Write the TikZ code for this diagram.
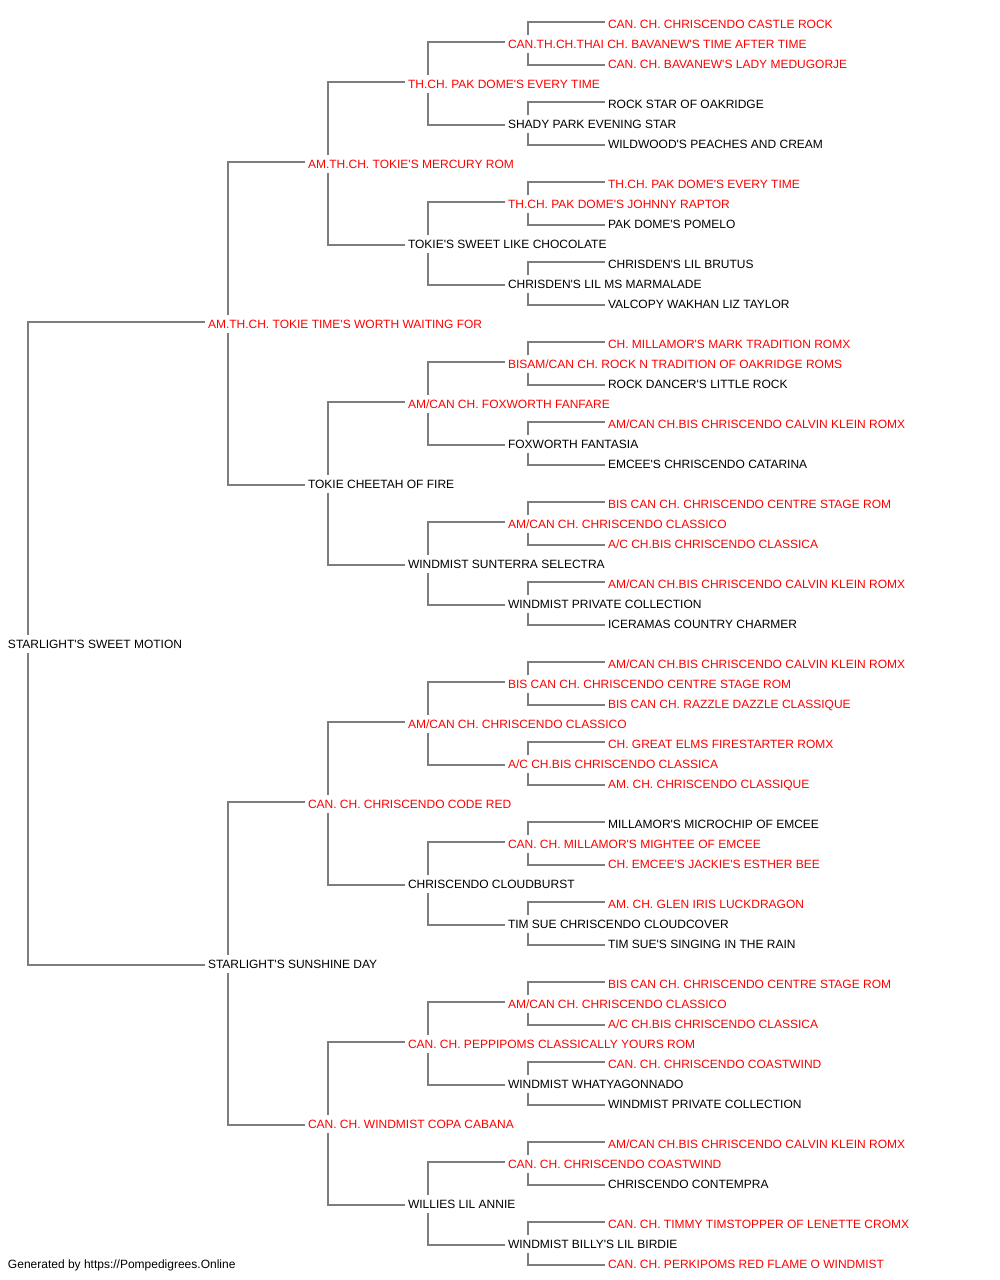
\documentclass[tikz,border=0pt]{standalone}
\usepackage{fontspec}
\setmainfont{Liberation Sans}[Ligatures=TeXOff]
\definecolor{pedred}{RGB}{255,0,0}
\definecolor{pedline}{RGB}{125,125,125}
\begin{document}
\begin{tikzpicture}[x=1pt,y=-1pt,
  nm/.style={anchor=west, inner xsep=3pt, inner ysep=0pt, outer sep=0pt,
    text height=10.6pt, text depth=0pt, font=\fontsize{12pt}{14pt}\selectfont, text=black},
  hl/.style={nm, text=pedred},
  conn/.style={draw=pedline, line width=1.8pt}]
\useasboundingbox (0,0) rectangle (1000,1280);
\def\ry#1{23+20*#1}
% leaves col 605, gen4 505, gen3 405, gen2 305, gen1 205, root 5 (node west = text x - 3)
\node[hl] (r0) at (605,{\ry{0}}) {CAN. CH. CHRISCENDO CASTLE ROCK};
\node[hl] (r1) at (505,{\ry{1}}) {CAN.TH.CH.THAI CH. BAVANEW'S TIME AFTER TIME};
\node[hl] (r2) at (605,{\ry{2}}) {CAN. CH. BAVANEW'S LADY MEDUGORJE};
\node[hl] (r3) at (405,{\ry{3}}) {TH.CH. PAK DOME'S EVERY TIME};
\node[nm] (r4) at (605,{\ry{4}}) {ROCK STAR OF OAKRIDGE};
\node[nm] (r5) at (505,{\ry{5}}) {SHADY PARK EVENING STAR};
\node[nm] (r6) at (605,{\ry{6}}) {WILDWOOD'S PEACHES AND CREAM};
\node[hl] (r7) at (305,{\ry{7}}) {AM.TH.CH. TOKIE'S MERCURY ROM};
\node[hl] (r8) at (605,{\ry{8}}) {TH.CH. PAK DOME'S EVERY TIME};
\node[hl] (r9) at (505,{\ry{9}}) {TH.CH. PAK DOME'S JOHNNY RAPTOR};
\node[nm] (r10) at (605,{\ry{10}}) {PAK DOME'S POMELO};
\node[nm] (r11) at (405,{\ry{11}}) {TOKIE'S SWEET LIKE CHOCOLATE};
\node[nm] (r12) at (605,{\ry{12}}) {CHRISDEN'S LIL BRUTUS};
\node[nm] (r13) at (505,{\ry{13}}) {CHRISDEN'S LIL MS MARMALADE};
\node[nm] (r14) at (605,{\ry{14}}) {VALCOPY WAKHAN LIZ TAYLOR};
\node[hl] (r15) at (205,{\ry{15}}) {AM.TH.CH. TOKIE TIME'S WORTH WAITING FOR};
\node[hl] (r16) at (605,{\ry{16}}) {CH. MILLAMOR'S MARK TRADITION ROMX};
\node[hl] (r17) at (505,{\ry{17}}) {BISAM/CAN CH. ROCK N TRADITION OF OAKRIDGE ROMS};
\node[nm] (r18) at (605,{\ry{18}}) {ROCK DANCER'S LITTLE ROCK};
\node[hl] (r19) at (405,{\ry{19}}) {AM/CAN CH. FOXWORTH FANFARE};
\node[hl] (r20) at (605,{\ry{20}}) {AM/CAN CH.BIS CHRISCENDO CALVIN KLEIN ROMX};
\node[nm] (r21) at (505,{\ry{21}}) {FOXWORTH FANTASIA};
\node[nm] (r22) at (605,{\ry{22}}) {EMCEE'S CHRISCENDO CATARINA};
\node[nm] (r23) at (305,{\ry{23}}) {TOKIE CHEETAH OF FIRE};
\node[hl] (r24) at (605,{\ry{24}}) {BIS CAN CH. CHRISCENDO CENTRE STAGE ROM};
\node[hl] (r25) at (505,{\ry{25}}) {AM/CAN CH. CHRISCENDO CLASSICO};
\node[hl] (r26) at (605,{\ry{26}}) {A/C CH.BIS CHRISCENDO CLASSICA};
\node[nm] (r27) at (405,{\ry{27}}) {WINDMIST SUNTERRA SELECTRA};
\node[hl] (r28) at (605,{\ry{28}}) {AM/CAN CH.BIS CHRISCENDO CALVIN KLEIN ROMX};
\node[nm] (r29) at (505,{\ry{29}}) {WINDMIST PRIVATE COLLECTION};
\node[nm] (r30) at (605,{\ry{30}}) {ICERAMAS COUNTRY CHARMER};
\node[nm] (r31) at (5,{\ry{31}}) {STARLIGHT'S SWEET MOTION};
\node[hl] (r32) at (605,{\ry{32}}) {AM/CAN CH.BIS CHRISCENDO CALVIN KLEIN ROMX};
\node[hl] (r33) at (505,{\ry{33}}) {BIS CAN CH. CHRISCENDO CENTRE STAGE ROM};
\node[hl] (r34) at (605,{\ry{34}}) {BIS CAN CH. RAZZLE DAZZLE CLASSIQUE};
\node[hl] (r35) at (405,{\ry{35}}) {AM/CAN CH. CHRISCENDO CLASSICO};
\node[hl] (r36) at (605,{\ry{36}}) {CH. GREAT ELMS FIRESTARTER ROMX};
\node[hl] (r37) at (505,{\ry{37}}) {A/C CH.BIS CHRISCENDO CLASSICA};
\node[hl] (r38) at (605,{\ry{38}}) {AM. CH. CHRISCENDO CLASSIQUE};
\node[hl] (r39) at (305,{\ry{39}}) {CAN. CH. CHRISCENDO CODE RED};
\node[nm] (r40) at (605,{\ry{40}}) {MILLAMOR'S MICROCHIP OF EMCEE};
\node[hl] (r41) at (505,{\ry{41}}) {CAN. CH. MILLAMOR'S MIGHTEE OF EMCEE};
\node[hl] (r42) at (605,{\ry{42}}) {CH. EMCEE'S JACKIE'S ESTHER BEE};
\node[nm] (r43) at (405,{\ry{43}}) {CHRISCENDO CLOUDBURST};
\node[hl] (r44) at (605,{\ry{44}}) {AM. CH. GLEN IRIS LUCKDRAGON};
\node[nm] (r45) at (505,{\ry{45}}) {TIM SUE CHRISCENDO CLOUDCOVER};
\node[nm] (r46) at (605,{\ry{46}}) {TIM SUE'S SINGING IN THE RAIN};
\node[nm] (r47) at (205,{\ry{47}}) {STARLIGHT'S SUNSHINE DAY};
\node[hl] (r48) at (605,{\ry{48}}) {BIS CAN CH. CHRISCENDO CENTRE STAGE ROM};
\node[hl] (r49) at (505,{\ry{49}}) {AM/CAN CH. CHRISCENDO CLASSICO};
\node[hl] (r50) at (605,{\ry{50}}) {A/C CH.BIS CHRISCENDO CLASSICA};
\node[hl] (r51) at (405,{\ry{51}}) {CAN. CH. PEPPIPOMS CLASSICALLY YOURS ROM};
\node[hl] (r52) at (605,{\ry{52}}) {CAN. CH. CHRISCENDO COASTWIND};
\node[nm] (r53) at (505,{\ry{53}}) {WINDMIST WHATYAGONNADO};
\node[nm] (r54) at (605,{\ry{54}}) {WINDMIST PRIVATE COLLECTION};
\node[hl] (r55) at (305,{\ry{55}}) {CAN. CH. WINDMIST COPA CABANA};
\node[hl] (r56) at (605,{\ry{56}}) {AM/CAN CH.BIS CHRISCENDO CALVIN KLEIN ROMX};
\node[hl] (r57) at (505,{\ry{57}}) {CAN. CH. CHRISCENDO COASTWIND};
\node[nm] (r58) at (605,{\ry{58}}) {CHRISCENDO CONTEMPRA};
\node[nm] (r59) at (405,{\ry{59}}) {WILLIES LIL ANNIE};
\node[hl] (r60) at (605,{\ry{60}}) {CAN. CH. TIMMY TIMSTOPPER OF LENETTE CROMX};
\node[nm] (r61) at (505,{\ry{61}}) {WINDMIST BILLY'S LIL BIRDIE};
\node[hl] (r62) at (605,{\ry{62}}) {CAN. CH. PERKIPOMS RED FLAME O WINDMIST};
\node[nm] (footer) at (5,{\ry{62}}) {Generated by https://Pompedigrees.Online};
% connectors: each animal row / offset to its two parents
\foreach \p/\d in {31/16, 15/8, 47/8, 7/4, 23/4, 39/4, 55/4,
  3/2, 11/2, 19/2, 27/2, 35/2, 43/2, 51/2, 59/2,
  1/1, 5/1, 9/1, 13/1, 17/1, 21/1, 25/1, 29/1, 33/1, 37/1, 41/1, 45/1, 49/1, 53/1, 57/1, 61/1} {
  \pgfmathtruncatemacro{\u}{\p-\d}
  \pgfmathtruncatemacro{\l}{\p+\d}
  \draw[conn] ([yshift=1pt]r\u.west) -| ([xshift=23pt,yshift=8pt]r\p.west);
  \draw[conn] ([yshift=-2pt]r\l.west) -| ([xshift=23pt,yshift=-10pt]r\p.west);
}
\end{tikzpicture}
\end{document}
